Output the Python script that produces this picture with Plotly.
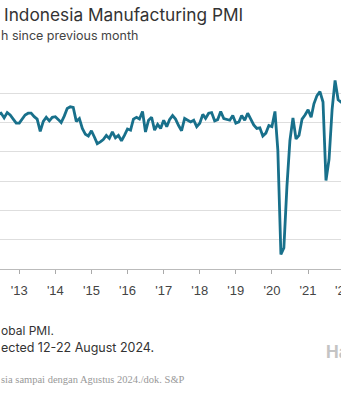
import pandas as pd
import plotly.graph_objects as go

# ---- data (Indonesia Manufacturing PMI, monthly) ----
pmi_2012 = [51.0, 51.4, 51.6, 50.8, 51.7, 51.3, 50.6, 49.9]  # May-Dec
pmi_2013 = [49.9, 50.6, 51.3, 51.6, 51.6, 51.0, 50.6, 48.5, 50.2, 50.9, 50.3, 50.9]
pmi_2014 = [51.0, 50.5, 50.0, 51.1, 52.4, 52.7, 52.6, 50.2, 50.7, 49.0, 48.0, 47.7]
pmi_2015 = [48.6, 47.5, 46.4, 46.7, 47.1, 47.8, 47.3, 48.4, 47.4, 47.8, 46.9, 47.8]
pmi_2016 = [48.9, 48.7, 50.6, 50.9, 50.6, 51.9, 48.4, 50.4, 50.9, 48.7, 49.7, 49.0]
pmi_2017 = [50.4, 49.3, 50.5, 51.2, 50.6, 49.5, 48.6, 50.7, 50.4, 50.1, 50.4, 49.3]
pmi_2018 = [49.9, 51.4, 50.7, 51.6, 51.7, 50.3, 50.5, 51.9, 50.7, 50.5, 50.4, 51.2]
pmi_2019 = [49.9, 50.1, 51.2, 50.4, 51.6, 50.6, 49.6, 49.0, 49.1, 47.7, 48.2, 49.5]
pmi_2020 = [49.3, 51.9, 45.3, 27.5, 28.6, 39.1, 46.9, 50.8, 47.2, 47.8, 50.6, 51.3]
pmi_2021 = [52.2, 50.9, 53.2, 54.6, 55.3, 53.5, 40.1, 43.7, 52.2, 57.2, 53.9, 53.5]
pmi_2022 = [53.7]

values = (pmi_2012 + pmi_2013 + pmi_2014 + pmi_2015 + pmi_2016 + pmi_2017
          + pmi_2018 + pmi_2019 + pmi_2020 + pmi_2021 + pmi_2022)
months = pd.date_range("2012-05-01", periods=len(values), freq="MS")

title_text = "Indonesia Manufacturing PMI"
subtitle_text = "h since previous month"
note1_text = "obal PMI."
note2_text = "ected 12-22 August 2024."
caption_text = "sia sampai dengan Agustus 2024./dok. S&P"
logo_text = "Ha"
cut_tick_label = "'2"

W, H = 341, 400
TOP, BOT = 64, 269
LINE = "#18708b"

def py(y):
    return (BOT - y) / (BOT - TOP)

def px(x):
    return x / W

fig = go.Figure()
fig.add_trace(go.Scatter(x=months, y=values, mode="lines",
                         line=dict(color=LINE, width=2.8),
                         hoverinfo="skip", showlegend=False))

fig.update_layout(
    width=W, height=H,
    margin=dict(l=0, r=0, t=TOP, b=H - BOT),
    paper_bgcolor="white", plot_bgcolor="white",
    font=dict(family="Inter, Liberation Sans, sans-serif", color="#333"),
    xaxis=dict(range=["2012-06-20", "2021-11-30"], dtick="M12", tick0="2013-01-01",
               tickformat="'%y", ticks="outside", ticklen=4, tickcolor="#aaa",
               ticklabelstandoff=5,
               showline=True, linecolor="#bbb", linewidth=1, showgrid=False,
               zeroline=False, tickfont=dict(size=13, color="#444",
                                             family="Liberation Sans, Arial, sans-serif")),
    yaxis=dict(range=[25, 60], dtick=5, showgrid=True, gridcolor="#dedede",
               gridwidth=1, showticklabels=False, zeroline=False, showline=False),
)

def ann(text, x, y, size, color, family=None, xanchor="left", bold=False):
    t = f"<b>{text}</b>" if bold else text
    fig.add_annotation(text=t, x=px(x), y=py(y), xref="paper", yref="paper",
                       showarrow=False, xanchor=xanchor, yanchor="middle",
                       font=dict(size=size, color=color,
                                 family=family or "Inter, Liberation Sans, sans-serif"))

ann(title_text, 2, 14, 17.3, "#333")
ann(subtitle_text, -1, 35, 12.5, "#444")
ann(cut_tick_label, 333, 290, 13, "#444", family="Liberation Sans, Arial, sans-serif")
ann(note1_text, -1, 330, 12, "#333")
ann(note2_text, -1, 347, 12.5, "#333")
ann(logo_text, 324, 352, 17, "#c4c4c4", bold=True)
ann(caption_text, -1, 379, 10.5, "#999", family="Liberation Serif, DejaVu Serif, serif")

fig.write_html("out.html")
